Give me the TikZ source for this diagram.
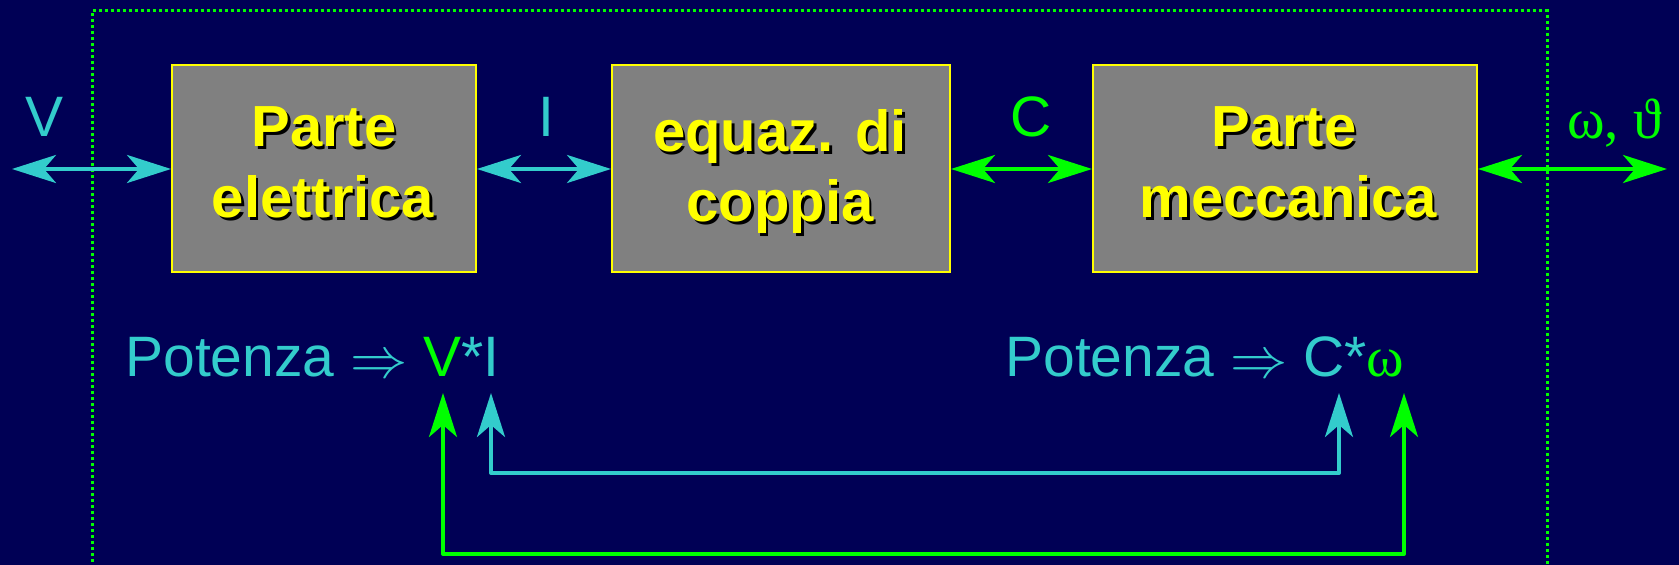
\documentclass[tikz,border=0pt]{standalone}
\usepackage{fontspec}
\setmainfont{Liberation Sans}
\newfontfamily\symfont{Liberation Serif}
\usetikzlibrary{arrows.meta}
\definecolor{bg}{RGB}{0,0,85}
\definecolor{cy}{RGB}{51,204,204}
\definecolor{gr}{RGB}{0,255,0}
\definecolor{yel}{RGB}{255,255,0}
\definecolor{boxgray}{RGB}{128,128,128}
\newcommand{\shtext}[1]{\leavevmode\rlap{\kern1.3pt\raisebox{-1.3pt}{\color{black}#1}}#1}
\newcommand{\bigimp}{\raisebox{-0.5pt}{\scalebox{1.15}{$\Rightarrow$}}}
\begin{document}
\begin{tikzpicture}[x=0.5pt,y=-0.5pt,
  blockbox/.style={draw=yel, line width=1pt, fill=boxgray, inner sep=0pt, anchor=north west, minimum height=103.5pt},
  boxtxt/.style={text=yel, inner sep=0pt, anchor=base, font=\fontsize{29}{35}\selectfont\bfseries},
  lbl/.style={inner sep=0pt, anchor=base, font=\fontsize{28.5}{34}\selectfont},
  conn/.style={line width=2pt, line join=round, {Stealth[length=22pt,width=14pt,inset=6pt]}-{Stealth[length=22pt,width=14pt,inset=6pt]}},
  cyconn/.style={conn, draw=cy},
  grconn/.style={conn, draw=gr},
  frame/.style={draw=gr, line width=1.5pt, dash pattern=on 1.5pt off 1.5pt}
]
\useasboundingbox (0,0) rectangle (1679,565);
\fill[bg] (0,0) rectangle (1679,565);
\clip (0,0) rectangle (1679,565);

% dotted frame
\draw[frame] (92,640) -- (92,11) -- (1547,11) -- (1547,640);

% blocks
\node[blockbox, minimum width=152pt] (b1) at (171,64) {};
\node[blockbox, minimum width=169pt] (b2) at (611,64) {};
\node[blockbox, minimum width=192pt] (b3) at (1092,64) {};

\node[boxtxt] (t1a) at (324,147) {\shtext{Parte}};
\node[boxtxt] (t1b) at (323,218) {\shtext{elettrica}};
\node[boxtxt] (t2a) at (780,152) {\shtext{equaz. di}};
\node[boxtxt] (t2b) at (780,222) {\shtext{coppia}};
\node[boxtxt] (t3a) at (1284,147) {\shtext{Parte}};
\node[boxtxt] (t3b) at (1288,218) {\shtext{meccanica}};

% horizontal connectors
\coordinate (vin) at (12,169);
\coordinate (wout) at (1667,169);
\draw[cyconn] (vin) -- (b1.west |- vin);
\draw[cyconn] (b1.east |- vin) -- (b2.west |- vin);
\draw[grconn] (b2.east |- vin) -- (b3.west |- vin);
\draw[grconn] (b3.east |- vin) -- (wout);

% labels
\node[lbl, text=cy] (lV) at (45,137) {V};
\node[lbl, text=cy] (lI) at (546,137) {I};
\node[lbl, text=gr] (lC) at (1031,137) {C};
\node[lbl, text=gr, anchor=base west] (lW) at (1567,139) {{\symfont ω, ϑ}};

% power texts
\node[lbl, anchor=base west] (p1) at (125,377) {\color{cy}Potenza \bigimp{} \textcolor{gr}{V}*I};
\node[lbl, anchor=base west] (p2) at (1005,377) {\color{cy}Potenza \bigimp{} C*\textcolor{gr}{\symfont ω}};

% bottom connectors
\coordinate (aV) at (443,393);
\coordinate (aI) at (491,393);
\coordinate (aC) at (1339,393);
\coordinate (aW) at (1404,393);
\draw[cyconn] (aI) -- ++(0,80) -| (aC);
\draw[grconn] (aV) -- ++(0,161) -| (aW);
\end{tikzpicture}
\end{document}
